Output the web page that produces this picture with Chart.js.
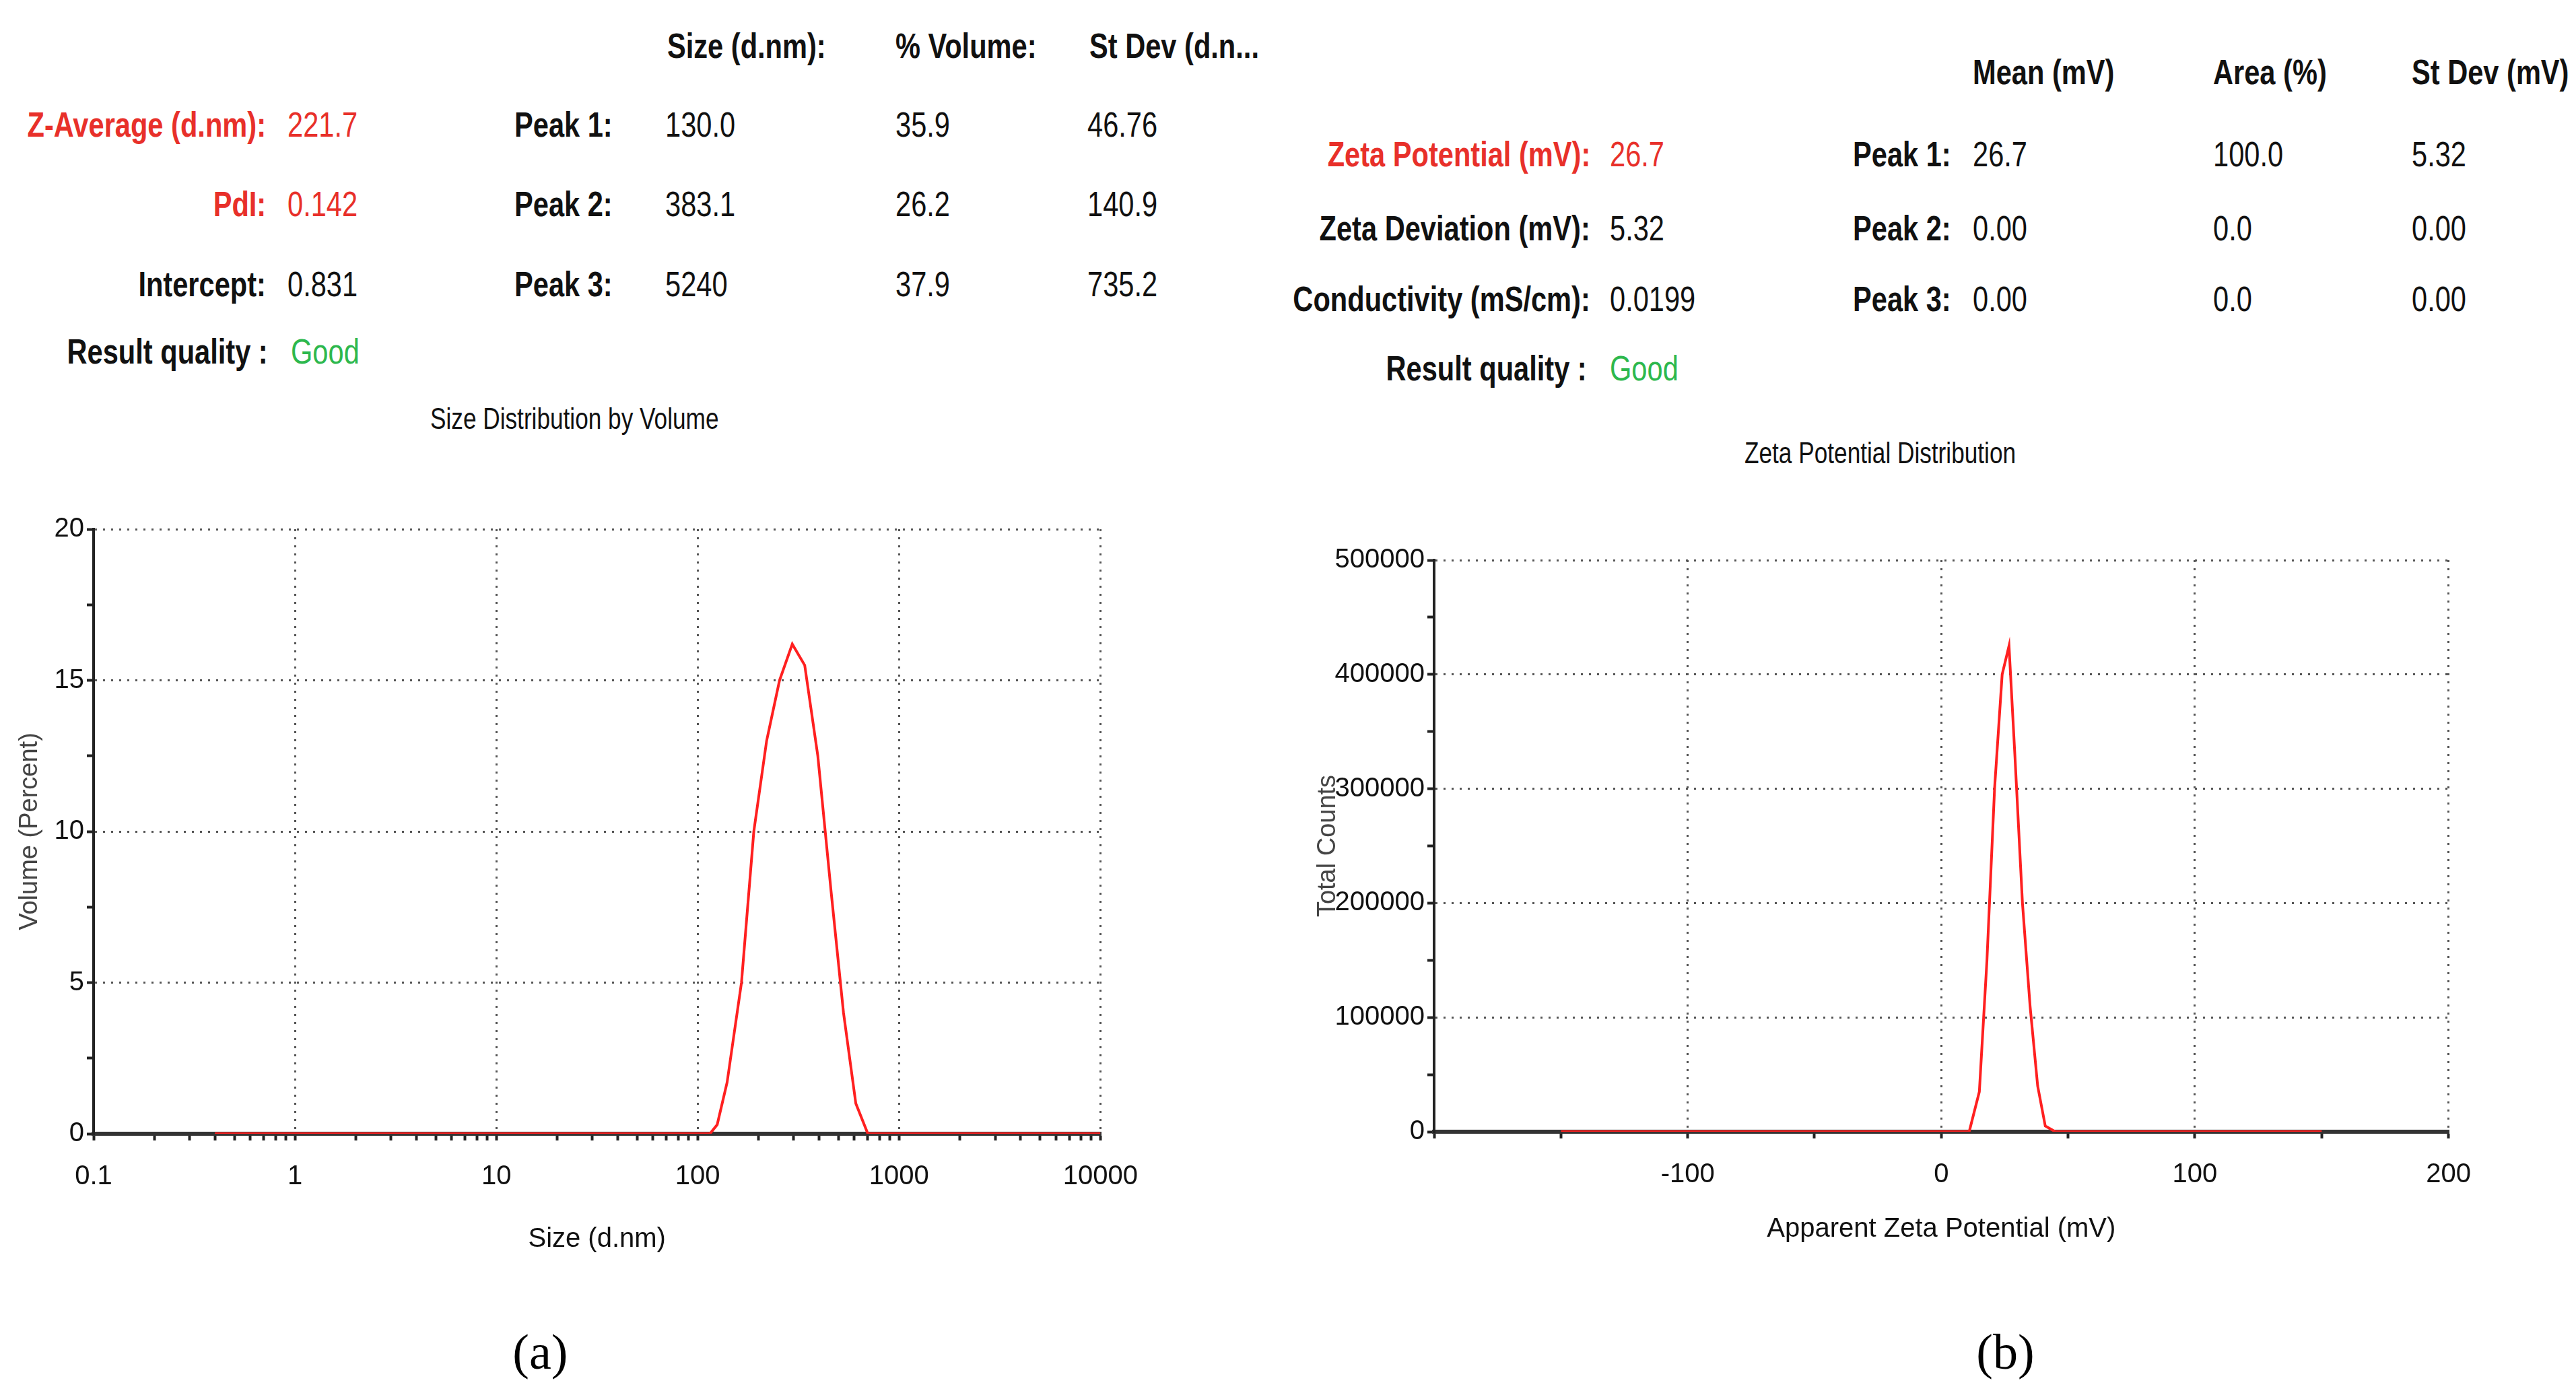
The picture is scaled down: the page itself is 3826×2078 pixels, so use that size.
<!DOCTYPE html>
<html><head><meta charset="utf-8">
<script src="https://cdn.jsdelivr.net/npm/chart.js@4"></script>
<style>
body{margin:0;background:#fff;width:3826px;height:2078px;position:relative;overflow:hidden}
.t{position:absolute;white-space:nowrap;font-family:"Liberation Sans",Arial,sans-serif;font-size:52px;color:#111;transform:translateY(-50%) scaleX(0.8);transform-origin:left center}
.r{transform-origin:right center}
.b{font-weight:bold}
.box{position:absolute}
</style></head><body>
<div class="box" style="left:0;top:740px;width:1720px;height:1220px"><canvas id="c1"></canvas></div>
<div class="box" style="left:1950px;top:780px;width:1750px;height:1180px"><canvas id="c2"></canvas></div>
<script>
const S = 2.44;
// size distribution (d.nm vs volume %)
const sizeX = [0.4, 1, 10, 100, 115, 125, 140, 165, 190, 220, 255, 295, 340, 395, 460, 530, 610, 700, 1000, 10000];
const sizeY = [0, 0, 0, 0, 0, 0.3, 1.7, 5, 10, 13, 15, 16.2, 15.5, 12.5, 8, 4, 1, 0, 0, 0];
// zeta potential distribution (mV vs counts)
const zetaX = [-150, 0, 11, 15, 18, 21, 24, 26.7, 29, 32, 35, 38, 41, 45, 150];
const zetaY = [0, 0, 0, 35000, 150000, 300000, 400000, 425000, 330000, 200000, 110000, 40000, 5000, 0, 0];

// text tables: [text, x, y, colour, rightAlign, bold]
const leftTable = [
  ["Size (d.nm):", 406, 28, null, 0, 1], ["% Volume:", 545, 28, null, 0, 1], ["St Dev (d.n...", 663, 28, null, 0, 1],
  ["Z-Average (d.nm):", 162, 76, "#e8302a", 1, 1], ["221.7", 175, 76, "#e8302a"],
  ["Peak 1:", 313, 76, null, 0, 1], ["130.0", 405, 76], ["35.9", 545, 76], ["46.76", 662, 76],
  ["PdI:", 162, 124, "#e8302a", 1, 1], ["0.142", 175, 124, "#e8302a"],
  ["Peak 2:", 313, 124, null, 0, 1], ["383.1", 405, 124], ["26.2", 545, 124], ["140.9", 662, 124],
  ["Intercept:", 162, 173, null, 1, 1], ["0.831", 175, 173],
  ["Peak 3:", 313, 173, null, 0, 1], ["5240", 405, 173], ["37.9", 545, 173], ["735.2", 662, 173],
  ["Result quality :", 163, 214, null, 1, 1], ["Good", 177, 214, "#2db84d"]
];
const rightTable = [
  ["Mean (mV)", 1201, 44, null, 0, 1], ["Area (%)", 1347, 44, null, 0, 1], ["St Dev (mV)", 1468, 44, null, 0, 1],
  ["Zeta Potential (mV):", 968, 94, "#e8302a", 1, 1], ["26.7", 980, 94, "#e8302a"],
  ["Peak 1:", 1128, 94, null, 0, 1], ["26.7", 1201, 94], ["100.0", 1347, 94], ["5.32", 1468, 94],
  ["Zeta Deviation (mV):", 968, 139, null, 1, 1], ["5.32", 980, 139],
  ["Peak 2:", 1128, 139, null, 0, 1], ["0.00", 1201, 139], ["0.0", 1347, 139], ["0.00", 1468, 139],
  ["Conductivity (mS/cm):", 968, 182, null, 1, 1], ["0.0199", 980, 182],
  ["Peak 3:", 1128, 182, null, 0, 1], ["0.00", 1201, 182], ["0.0", 1347, 182], ["0.00", 1468, 182],
  ["Result quality :", 966, 224, null, 1, 1], ["Good", 980, 224, "#2db84d"]
];

function put(txt, x, y, color, right, bold, extra) {
  const d = document.createElement("div");
  d.className = "t" + (right ? " r" : "") + (bold ? " b" : "");
  d.textContent = txt;
  if (right) d.style.right = (3826 - x * S) + "px";
  else d.style.left = (x * S) + "px";
  d.style.top = (y * S) + "px";
  if (color) d.style.color = color;
  if (extra) Object.assign(d.style, extra);
  document.body.appendChild(d);
}
leftTable.concat(rightTable).forEach(r => put(r[0], r[1], r[2], r[3], r[4], r[5]));
put("Size Distribution by Volume", 262, 255, null, 0, 0, {fontSize: "44px"});
put("Zeta Potential Distribution", 1062, 276, null, 0, 0, {fontSize: "44px"});
put("(a)", 312, 823, null, 0, 0, {fontFamily: "'Liberation Serif',serif", fontSize: "74px", color: "#000", transform: "translateY(-50%)"});
put("(b)", 1203, 823, null, 0, 0, {fontFamily: "'Liberation Serif',serif", fontSize: "74px", color: "#000", transform: "translateY(-50%)"});

const tickFont = {family: "'Liberation Sans',Arial,sans-serif", size: 40};
const dotted = "#555";

function yAxis(max, step, title, width) {
  return {
    min: 0, max: max,
    afterBuildTicks: s => {
      s.ticks = [];
      for (let v = 0; v <= max + 1e-9; v += step / 2) s.ticks.push({value: v});
    },
    afterFit: s => { s.width = width; },
    ticks: {font: tickFont, color: "#111", padding: 4,
      callback: v => (Math.abs(v / step - Math.round(v / step)) < 1e-6 ? String(v) : "")},
    grid: {
      color: c => (c.tick && c.tick.value > 0 && Math.abs(c.tick.value / step - Math.round(c.tick.value / step)) < 1e-6 ? dotted : "rgba(0,0,0,0)"),
      tickColor: "#222", tickLength: 10, lineWidth: 3, tickWidth: 4
    },
    border: {color: "#222", width: 4, dash: [3, 9]},
    title: {display: true, text: title, font: {family: "'Liberation Sans',Arial,sans-serif", size: 38}, color: "#444", padding: 0}
  };
}

function xGrid(isMajor) {
  return {
    color: c => (c.tick && isMajor(+c.tick.value) ? dotted : "rgba(0,0,0,0)"),
    tickColor: "#222", tickLength: 10, lineWidth: 3, tickWidth: 4
  };
}

new Chart(document.getElementById("c1"), {
  type: "line",
  data: {datasets: [{data: sizeX.map((x, i) => ({x: x, y: sizeY[i]})), borderColor: "#ff2020", borderWidth: 4, pointRadius: 0, tension: 0}]},
  options: {
    responsive: true, maintainAspectRatio: false, animation: false,
    layout: {padding: {top: 46, right: 58, left: 22, bottom: 95}},
    plugins: {legend: {display: false}, tooltip: {enabled: false}},
    scales: {
      x: {
        type: "logarithmic", min: 0.1, max: 10000,
        afterBuildTicks: s => {
          s.ticks = [];
          for (let d = 0.1; d < 10001; d *= 10)
            for (let m = 1; m <= 9; m++) { const v = +(d * m).toPrecision(3); if (v <= 10000) s.ticks.push({value: v}); }
        },
        afterFit: s => { s.height = 181; },
        ticks: {font: tickFont, color: "#111", autoSkip: false, maxRotation: 0, padding: 30,
          callback: v => ([0.1, 1, 10, 100, 1000, 10000].includes(+v) ? String(v) : "")},
        grid: xGrid(v => [1, 10, 100, 1000, 10000].includes(v)),
        border: {color: "#333", width: 6, dash: [3, 9]},
        title: {display: true, text: "Size (d.nm)", font: tickFont, color: "#111", padding: 0}
      },
      y: yAxis(20, 5, "Volume (Percent)", 117)
    }
  }
});

new Chart(document.getElementById("c2"), {
  type: "line",
  data: {datasets: [{data: zetaX.map((x, i) => ({x: x, y: zetaY[i]})), borderColor: "#ff2020", borderWidth: 4, pointRadius: 0, tension: 0}]},
  options: {
    responsive: true, maintainAspectRatio: false, animation: false,
    layout: {padding: {top: 52, right: 62, left: 0, bottom: 110}},
    plugins: {legend: {display: false}, tooltip: {enabled: false}},
    scales: {
      x: {
        type: "linear", min: -200, max: 200,
        afterBuildTicks: s => {
          s.ticks = [];
          for (let v = -200; v <= 200; v += 50) s.ticks.push({value: v});
        },
        afterFit: s => { s.height = 169; },
        ticks: {font: tickFont, color: "#111", autoSkip: false, maxRotation: 0, padding: 30,
          callback: v => (v % 100 === 0 && v > -200 ? String(v) : "")},
        grid: xGrid(v => v % 100 === 0 && v > -200),
        border: {color: "#333", width: 6, dash: [3, 9]},
        title: {display: true, text: "Apparent Zeta Potential (mV)", font: tickFont, color: "#111", padding: 0}
      },
      y: yAxis(500000, 100000, "Total Counts", 180)
    }
  }
});
</script>
</body></html>
